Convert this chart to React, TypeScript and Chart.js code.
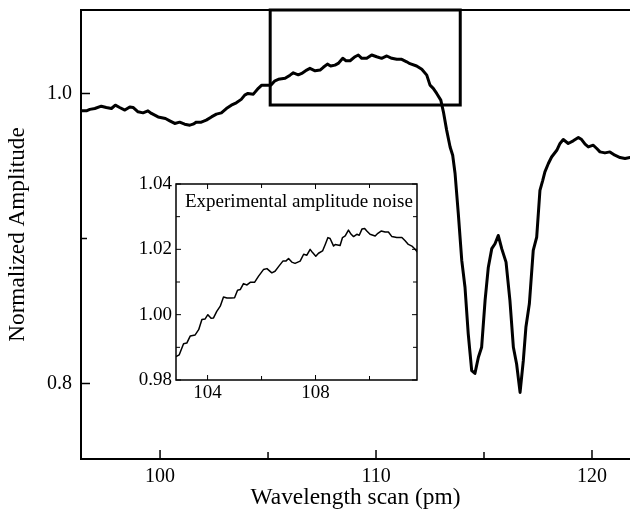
import React, { useEffect, useRef } from "react";
import { Chart, registerables } from "chart.js";

Chart.register(...registerables);

// ---------- data ----------
const mainWavelength = [
  96.36, 96.59, 96.75, 96.98, 97.28, 97.51, 97.75, 97.93, 98.13, 98.37,
  98.6, 98.75, 98.98, 99.21, 99.44, 99.6, 99.91, 100.25, 100.45, 100.68,
  100.91, 101.14, 101.38, 101.53, 101.68, 101.91, 102.14, 102.38, 102.61, 102.84,
  103.07, 103.3, 103.53, 103.76, 103.92, 104.07,
  104.32, 104.55, 104.71, 104.94, 105.13, 105.32, 105.48, 105.79, 106.02, 106.17,
  106.4, 106.56, 106.79, 106.94, 107.18, 107.41, 107.56, 107.75, 107.9, 108.1,
  108.25, 108.46, 108.61, 108.8, 109.03, 109.18, 109.34, 109.57, 109.8, 110.03,
  110.26, 110.5, 110.73, 110.96, 111.19, 111.42, 111.57,
  111.88, 112.12, 112.35, 112.5, 112.65, 112.81, 113.0, 113.12, 113.27, 113.43,
  113.55, 113.66, 113.81, 113.97, 114.12, 114.27, 114.43, 114.58, 114.74, 114.89,
  115.05, 115.2, 115.36, 115.51, 115.66, 115.82, 116.02, 116.2, 116.36, 116.51,
  116.67, 116.82, 116.94, 117.1, 117.28, 117.44, 117.59,
  117.72, 117.82, 117.98, 118.13, 118.37, 118.52, 118.67, 118.9, 119.13, 119.37,
  119.52, 119.68, 119.83, 120.06, 120.22, 120.37, 120.6, 120.83, 121.06, 121.3,
  121.53, 121.76,
];
const mainAmplitude = [
  0.988, 0.988, 0.989, 0.9896, 0.9912, 0.9903, 0.9896, 0.9919, 0.9903, 0.9885,
  0.9907, 0.9903, 0.9873, 0.9866, 0.988, 0.9862, 0.9838, 0.9827, 0.9811, 0.9793,
  0.9802, 0.9788, 0.9781, 0.9788, 0.9802, 0.9802, 0.9816, 0.9838, 0.9857, 0.9866,
  0.9896, 0.9919, 0.9935, 0.9959, 0.9988, 1.0,
  0.9995, 1.0035, 1.0057, 1.0057, 1.0057, 1.0087, 1.0097, 1.0104, 1.0126, 1.0142,
  1.0128, 1.0138, 1.0161, 1.0173, 1.0156, 1.0161, 1.018, 1.0202, 1.0189, 1.0195,
  1.0207, 1.0242, 1.0225, 1.0225, 1.0253, 1.0265, 1.0242, 1.0242, 1.0265, 1.0253,
  1.0242, 1.0258, 1.0242, 1.0235, 1.0235, 1.0218, 1.0205,
  1.0189, 1.0166, 1.0126, 1.0057, 1.0035, 1.0, 0.9954, 0.9873, 0.9747, 0.9631,
  0.9574, 0.9448, 0.9171, 0.8849, 0.8664, 0.8343, 0.8089, 0.807, 0.8181, 0.825,
  0.8573, 0.8802, 0.893, 0.8964, 0.9021, 0.893, 0.8837, 0.8573, 0.825, 0.8135,
  0.7939, 0.8158, 0.8388, 0.855, 0.8918, 0.901, 0.9332,
  0.9401, 0.9459, 0.9517, 0.9562, 0.9608, 0.9655, 0.9682, 0.9655, 0.9673, 0.9696,
  0.9682, 0.965, 0.9631, 0.9643, 0.962, 0.9597, 0.959, 0.9597, 0.9574, 0.9558,
  0.9551, 0.9558,
];

const insetWavelength = [
  102.83, 102.95, 103.11, 103.23, 103.36, 103.54, 103.67, 103.79, 103.91, 104.01,
  104.13, 104.22, 104.34, 104.47, 104.59, 104.72, 104.87, 105.0, 105.11, 105.21,
  105.33, 105.46, 105.58, 105.74, 105.89, 106.07, 106.2, 106.38, 106.5, 106.63,
  106.79, 106.9, 107.0, 107.12, 107.24, 107.43, 107.56, 107.68, 107.8, 107.89,
  108.01, 108.11, 108.26, 108.36, 108.46, 108.54, 108.67, 108.73, 108.91, 109.0,
  109.1, 109.22, 109.32, 109.41, 109.53, 109.62, 109.72, 109.82, 109.9, 110.02,
  110.21, 110.31, 110.43, 110.58, 110.7, 110.83, 111.01, 111.2, 111.32, 111.44,
  111.57, 111.69, 111.79,
];
const insetAmplitude = [
  0.9872, 0.9877, 0.9911, 0.9913, 0.9935, 0.9938, 0.9954, 0.9985, 0.9987, 1.0,
  0.9989, 0.999, 1.001, 1.0026, 1.0054, 1.0051, 1.0051, 1.0052, 1.0075, 1.0077,
  1.0095, 1.0091, 1.0099, 1.0099, 1.0118, 1.0138, 1.0141, 1.0128, 1.0133, 1.0147,
  1.0164, 1.0164, 1.0172, 1.0161, 1.0157, 1.0164, 1.0185, 1.0182, 1.02, 1.019,
  1.0179, 1.0188, 1.0195, 1.0215, 1.0236, 1.0233, 1.021, 1.0215, 1.0212, 1.0236,
  1.0241, 1.0259, 1.0246, 1.0239, 1.0246, 1.0243, 1.0262, 1.0264, 1.0256, 1.0246,
  1.0241, 1.0249, 1.0256, 1.0253, 1.0253, 1.0239, 1.0236, 1.0236, 1.0226, 1.0215,
  1.021, 1.02, 1.019,
];

const mainXRange = [96.34, 121.76];
const mainYRange = [0.748, 1.0575];
const mainXTicks = [100, 105, 110, 115, 120];
const mainXLabeled = [100, 110, 120];
const mainYTicks = [0.8, 0.9, 1.0];
const mainYLabeled = [0.8, 1.0];
const zoomBoxX = [105.1, 113.9];
const zoomBoxY = [0.992, 1.0575];

const insetXRange = [102.83, 111.76];
const insetYRange = [0.98, 1.04];
const insetXTicks = [104, 106, 108, 110];
const insetXLabeled = [104, 108];
const insetYTicks = [0.98, 0.99, 1.0, 1.01, 1.02, 1.03, 1.04];
const insetYLabeled = [0.98, 1.0, 1.02, 1.04];

const xTitle = "Wavelength scan (pm)";
const yTitle = "Normalized Amplitude";
const insetTitle = "Experimental amplitude noise";

const FONT = '"Liberation Serif", "Times New Roman", serif';

const has = (arr: number[], v: number) => arr.some((a) => Math.abs(a - v) < 1e-9);

const mainFramePlugin = {
  id: "mainFrame",
  afterDraw(chart: any) {
    const { ctx, chartArea } = chart;
    const { left, right, top, bottom } = chartArea;
    const xs = chart.scales.x;
    const ys = chart.scales.y;
    ctx.save();
    ctx.strokeStyle = "#000";
    ctx.lineWidth = 2;
    ctx.beginPath();
    ctx.moveTo(left, top);
    ctx.lineTo(right, top);
    ctx.moveTo(left, top - 1);
    ctx.lineTo(left, bottom + 1);
    ctx.moveTo(left, bottom);
    ctx.lineTo(right, bottom);
    ctx.stroke();
    ctx.lineWidth = 1.5;
    ctx.beginPath();
    for (const v of mainXTicks) {
      const px = xs.getPixelForValue(v);
      const len = has(mainXLabeled, v) ? 9 : 7;
      ctx.moveTo(px, bottom);
      ctx.lineTo(px, bottom - len);
    }
    for (const v of mainYTicks) {
      const py = ys.getPixelForValue(v);
      const len = has(mainYLabeled, v) ? 9 : 6;
      ctx.moveTo(left, py);
      ctx.lineTo(left + len, py);
    }
    ctx.stroke();
    // zoom rectangle
    const x0 = xs.getPixelForValue(zoomBoxX[0]);
    const x1 = xs.getPixelForValue(zoomBoxX[1]);
    const y0 = ys.getPixelForValue(zoomBoxY[1]);
    const y1 = ys.getPixelForValue(zoomBoxY[0]);
    ctx.lineWidth = 3;
    ctx.strokeRect(x0, y0, x1 - x0, y1 - y0);
    ctx.restore();
  },
};

const insetFramePlugin = {
  id: "insetFrame",
  afterDraw(chart: any) {
    const { ctx, chartArea } = chart;
    const { left, right, top, bottom } = chartArea;
    const xs = chart.scales.x;
    const ys = chart.scales.y;
    ctx.save();
    ctx.strokeStyle = "#000";
    ctx.lineWidth = 1.5;
    ctx.strokeRect(left, top, right - left, bottom - top);
    ctx.lineWidth = 1;
    ctx.beginPath();
    for (const v of insetXTicks) {
      const px = xs.getPixelForValue(v);
      const len = has(insetXLabeled, v) ? 5 : 4;
      ctx.moveTo(px, bottom);
      ctx.lineTo(px, bottom - len);
      ctx.moveTo(px, top);
      ctx.lineTo(px, top + len);
    }
    for (const v of insetYTicks) {
      const py = ys.getPixelForValue(v);
      const len = has(insetYLabeled, v) ? 5 : 4;
      ctx.moveTo(left, py);
      ctx.lineTo(left + len, py);
      ctx.moveTo(right, py);
      ctx.lineTo(right - len, py);
    }
    ctx.stroke();
    ctx.fillStyle = "#000";
    ctx.font = `19px ${FONT}`;
    ctx.textAlign = "left";
    ctx.textBaseline = "alphabetic";
    ctx.fillText(insetTitle, left + 9, top + 22.5);
    ctx.restore();
  },
};

function MainChart() {
  const ref = useRef<HTMLCanvasElement>(null);
  useEffect(() => {
    if (!ref.current) return;
    const chart = new Chart(ref.current, {
      type: "line",
      data: {
        datasets: [
          {
            data: mainWavelength.map((x, i) => ({ x, y: mainAmplitude[i] })),
            borderColor: "#000",
            borderWidth: 3,
            pointRadius: 0,
            tension: 0,
            borderJoinStyle: "round",
            borderCapStyle: "round",
            fill: false,
          },
        ],
      },
      options: {
        animation: false,
        responsive: false,
        devicePixelRatio: 1,
        layout: { padding: { top: 10, right: 0, left: 0, bottom: 0 } },
        plugins: { legend: { display: false }, tooltip: { enabled: false } },
        scales: {
          x: {
            type: "linear",
            min: mainXRange[0],
            max: mainXRange[1],
            bounds: "data",
            grid: { display: false, drawTicks: false },
            border: { display: false },
            afterBuildTicks: (s: any) => {
              s.ticks = mainXTicks.map((v) => ({ value: v }));
            },
            afterFit: (s: any) => {
              s.height = 56;
              s.paddingLeft = 0;
              s.paddingRight = 0;
            },
            ticks: {
              autoSkip: false,
              maxRotation: 0,
              padding: 6,
              color: "#000",
              font: { family: FONT, size: 20 },
              callback: (v: any) => (has(mainXLabeled, Number(v)) ? String(v) : ""),
            },
            title: {
              display: true,
              text: xTitle,
              color: "#000",
              font: { family: FONT, size: 23.4 },
              padding: { top: 0, bottom: 3 },
            },
          },
          y: {
            type: "linear",
            min: mainYRange[0],
            max: mainYRange[1],
            bounds: "data",
            grid: { display: false, drawTicks: false },
            border: { display: false },
            afterBuildTicks: (s: any) => {
              s.ticks = mainYTicks.map((v) => ({ value: v }));
            },
            afterFit: (s: any) => {
              s.width = 81;
              s.paddingTop = 0;
              s.paddingBottom = 0;
            },
            ticks: {
              autoSkip: false,
              padding: 9,
              color: "#000",
              font: { family: FONT, size: 20 },
              callback: (v: any) => (has(mainYLabeled, Number(v)) ? Number(v).toFixed(1) : ""),
            },
            title: {
              display: true,
              text: yTitle,
              color: "#000",
              font: { family: FONT, size: 23.2 },
              padding: { top: 4, bottom: 0 },
            },
          },
        },
      },
      plugins: [mainFramePlugin],
    } as any);
    return () => chart.destroy();
  }, []);
  return (
    <canvas
      ref={ref}
      width={630}
      height={515}
      style={{ position: "absolute", left: 0, top: 0, width: 630, height: 515 }}
    />
  );
}

function InsetChart() {
  const ref = useRef<HTMLCanvasElement>(null);
  useEffect(() => {
    if (!ref.current) return;
    const chart = new Chart(ref.current, {
      type: "line",
      data: {
        datasets: [
          {
            data: insetWavelength.map((x, i) => ({ x, y: insetAmplitude[i] })),
            borderColor: "#000",
            borderWidth: 1.5,
            pointRadius: 0,
            tension: 0,
            borderJoinStyle: "round",
            fill: false,
          },
        ],
      },
      options: {
        animation: false,
        responsive: false,
        devicePixelRatio: 1,
        layout: { padding: { top: 14, right: 13, left: 0, bottom: 0 } },
        plugins: { legend: { display: false }, tooltip: { enabled: false } },
        scales: {
          x: {
            type: "linear",
            min: insetXRange[0],
            max: insetXRange[1],
            bounds: "data",
            grid: { display: false, drawTicks: false },
            border: { display: false },
            afterBuildTicks: (s: any) => {
              s.ticks = insetXTicks.map((v) => ({ value: v }));
            },
            afterFit: (s: any) => {
              s.height = 30;
              s.paddingLeft = 0;
              s.paddingRight = 0;
            },
            ticks: {
              autoSkip: false,
              maxRotation: 0,
              padding: 2,
              color: "#000",
              font: { family: FONT, size: 19 },
              callback: (v: any) => (has(insetXLabeled, Number(v)) ? String(v) : ""),
            },
          },
          y: {
            type: "linear",
            min: insetYRange[0],
            max: insetYRange[1],
            bounds: "data",
            grid: { display: false, drawTicks: false },
            border: { display: false },
            afterBuildTicks: (s: any) => {
              s.ticks = insetYTicks.map((v) => ({ value: v }));
            },
            afterFit: (s: any) => {
              s.width = 56;
              s.paddingTop = 0;
              s.paddingBottom = 0;
            },
            ticks: {
              autoSkip: false,
              padding: 4,
              color: "#000",
              font: { family: FONT, size: 19 },
              callback: (v: any) => (has(insetYLabeled, Number(v)) ? Number(v).toFixed(2) : ""),
            },
          },
        },
      },
      plugins: [insetFramePlugin],
    } as any);
    return () => chart.destroy();
  }, []);
  return (
    <canvas
      ref={ref}
      width={310}
      height={240}
      style={{ position: "absolute", left: 120, top: 170, width: 310, height: 240 }}
    />
  );
}

export default function App() {
  return (
    <div style={{ position: "absolute", left: 0, top: 0, width: 630, height: 515, background: "#fff", overflow: "hidden" }}>
      <MainChart />
      <InsetChart />
    </div>
  );
}
